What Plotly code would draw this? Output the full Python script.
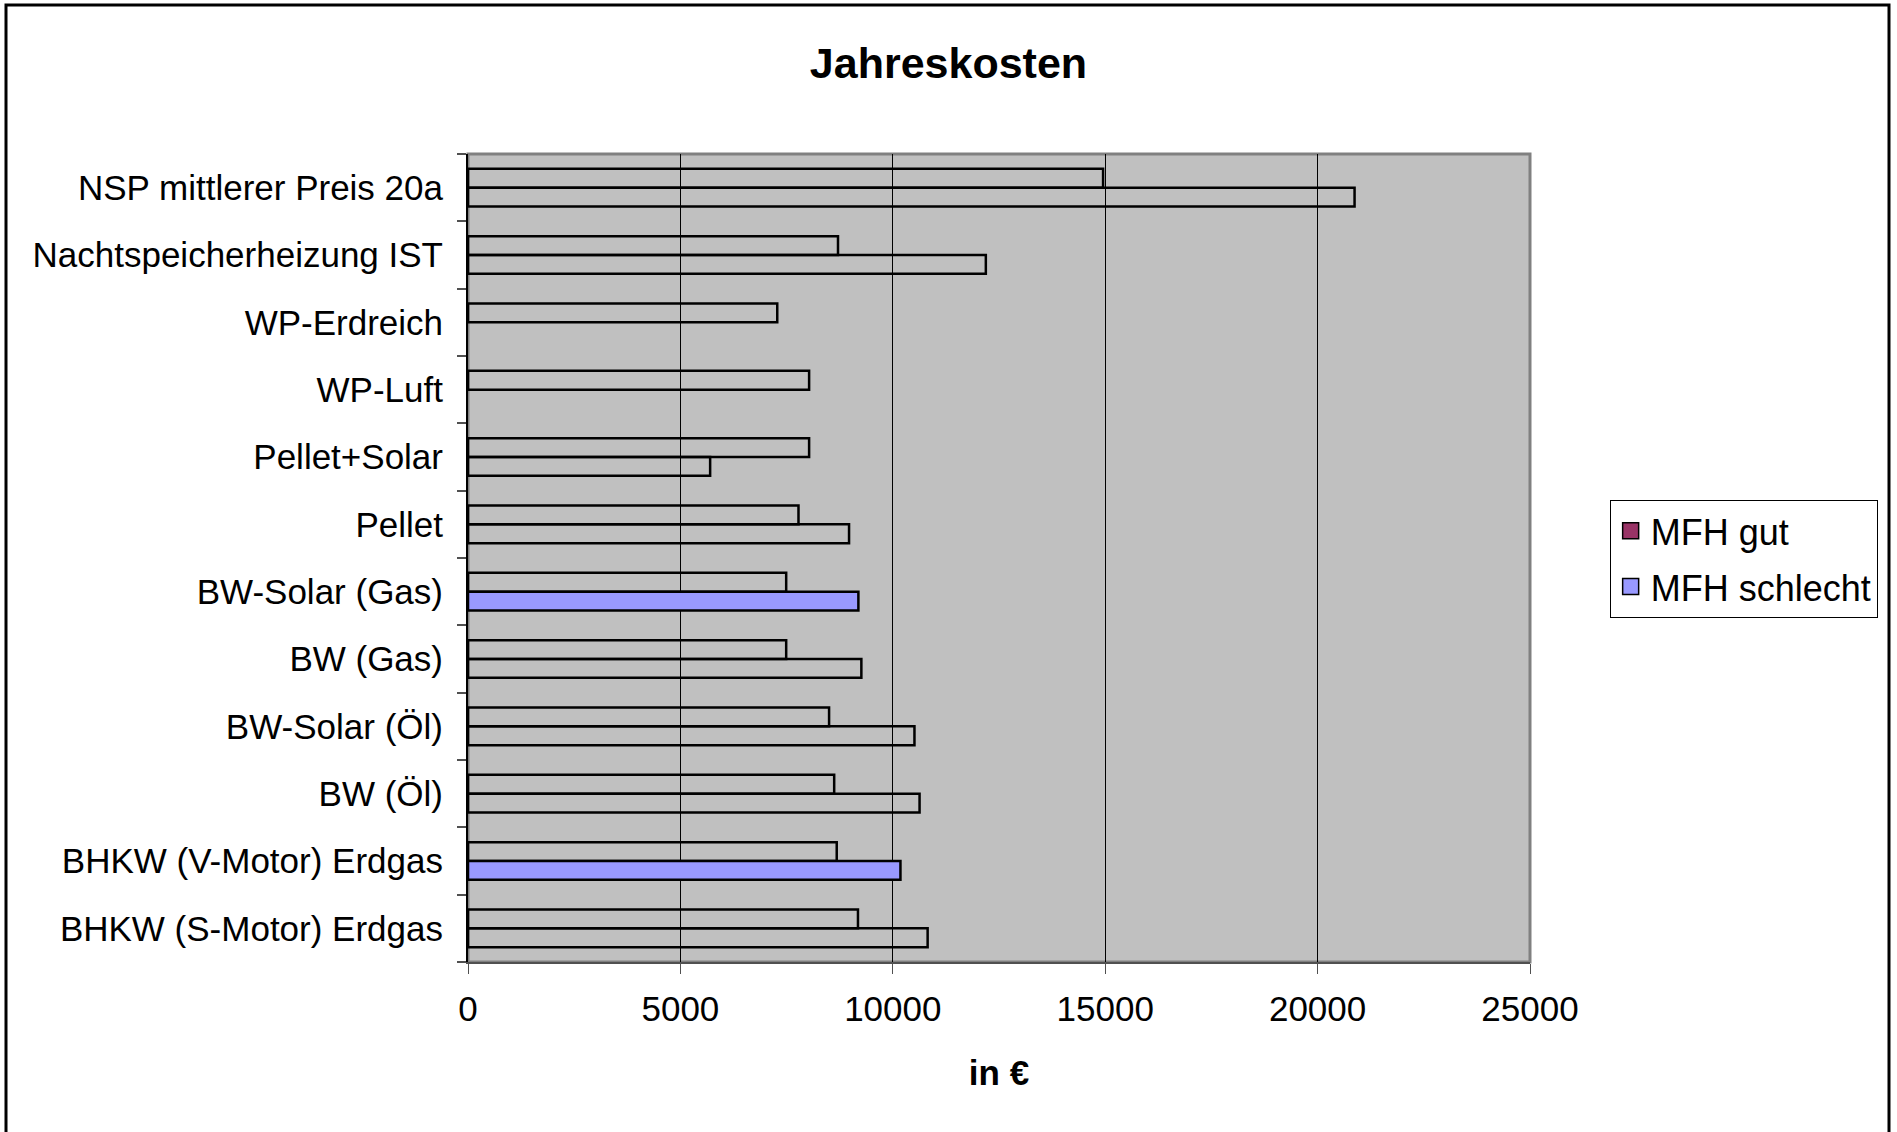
import plotly.graph_objects as go

# Heating systems, listed top to bottom
categories = [
    "NSP mittlerer Preis 20a",
    "Nachtspeicherheizung IST",
    "WP-Erdreich",
    "WP-Luft",
    "Pellet+Solar",
    "Pellet",
    "BW-Solar (Gas)",
    "BW (Gas)",
    "BW-Solar (Öl)",
    "BW (Öl)",
    "BHKW (V-Motor) Erdgas",
    "BHKW (S-Motor) Erdgas",
]

# Annual costs in EUR
mfh_gut = [14950, 8710, 7280, 8030, 8030, 7780, 7490, 7490, 8500, 8620, 8680, 9180]
mfh_schlecht = [20870, 12190, None, None, 5700, 8970, 9190, 9260, 10510, 10630, 10180, 10820]

# Points that carry their own fill; all other bars are outline only
highlight_schlecht = ["BW-Solar (Gas)", "BHKW (V-Motor) Erdgas"]

x_ticks = [0, 5000, 10000, 15000, 20000, 25000]

COLOR_GUT = "#993366"
COLOR_SCHLECHT = "#9999FF"
NO_FILL = "rgba(0,0,0,0)"
FONT = "Liberation Sans, Arial, sans-serif"
BAR_W = 0.28

fig = go.Figure()

# Upper bar of each pair
fig.add_trace(go.Bar(
    y=categories, x=mfh_gut, orientation="h",
    width=BAR_W, offset=0,
    marker=dict(color=NO_FILL, line=dict(color="black", width=2.5)),
    showlegend=False, hoverinfo="x+y",
))

# Lower bar of each pair
fig.add_trace(go.Bar(
    y=categories, x=mfh_schlecht, orientation="h",
    width=BAR_W, offset=-BAR_W,
    marker=dict(
        color=[COLOR_SCHLECHT if c in highlight_schlecht else NO_FILL for c in categories],
        line=dict(color="black", width=2.5),
    ),
    showlegend=False, hoverinfo="x+y",
))

# Legend keys (square swatches)
for name, col in [("MFH gut", COLOR_GUT), ("MFH schlecht", COLOR_SCHLECHT)]:
    fig.add_trace(go.Scatter(
        y=[None], x=[None], mode="markers", name=name, legendgroup=name,
        marker=dict(symbol="square", size=16, color=col, line=dict(color="black", width=1.5)),
        showlegend=True,
    ))

fig.update_layout(
    width=1897, height=1132,
    margin=dict(l=468, r=367, t=154, b=170),
    paper_bgcolor="white",
    plot_bgcolor="#C0C0C0",
    barmode="overlay",
    font=dict(family=FONT, size=35, color="black"),
    title=dict(
        text="<b>Jahreskosten</b>",
        x=0.5, xanchor="center", xref="container",
        y=1 - 63 / 1132, yanchor="middle", yref="container",
        font=dict(family=FONT, size=43, color="black"),
    ),
    legend=dict(
        x=1.075, y=0.572, xanchor="left", yanchor="top",
        bgcolor="white", bordercolor="black", borderwidth=1,
        font=dict(family=FONT, size=36, color="black"),
        traceorder="grouped", tracegroupgap=6,
        itemwidth=30,
    ),
    xaxis=dict(
        range=[0, 25000], tickvals=x_ticks, ticktext=[str(v) for v in x_ticks],
        showgrid=True, gridcolor="black", gridwidth=1,
        zeroline=False,
        showline=True, linecolor="#505050", linewidth=2,
        ticks="outside", ticklen=10, tickcolor="#505050", tickwidth=1,
        ticklabelstandoff=5,
        tickfont=dict(family=FONT, size=35),
        title=dict(text="<b>in €</b>", font=dict(family=FONT, size=35), standoff=33),
    ),
    yaxis=dict(
        categoryorder="array", categoryarray=list(reversed(categories)),
        range=[-0.5, len(categories) - 0.5],
        showgrid=False, zeroline=False,
        showline=True, linecolor="black", linewidth=2,
        ticks="outside", ticklen=9, tickcolor="#505050", tickwidth=2,
        tickson="boundaries",
        ticklabelstandoff=16,
        tickfont=dict(family=FONT, size=35),
    ),
    shapes=[
        # grey frame of the plot area
        dict(type="rect", xref="paper", yref="paper", x0=0, x1=1, y0=0, y1=1,
             line=dict(color="#808080", width=3), fillcolor="rgba(0,0,0,0)", layer="below"),
        # outer chart border
        dict(type="rect", xref="paper", yref="paper",
             x0=(6 - 468) / 1062, x1=(1889 - 468) / 1062,
             y0=-0.4, y1=(962 - 5) / 808,
             line=dict(color="black", width=3), fillcolor="rgba(0,0,0,0)"),
    ],
)

fig.write_html("out.html")
